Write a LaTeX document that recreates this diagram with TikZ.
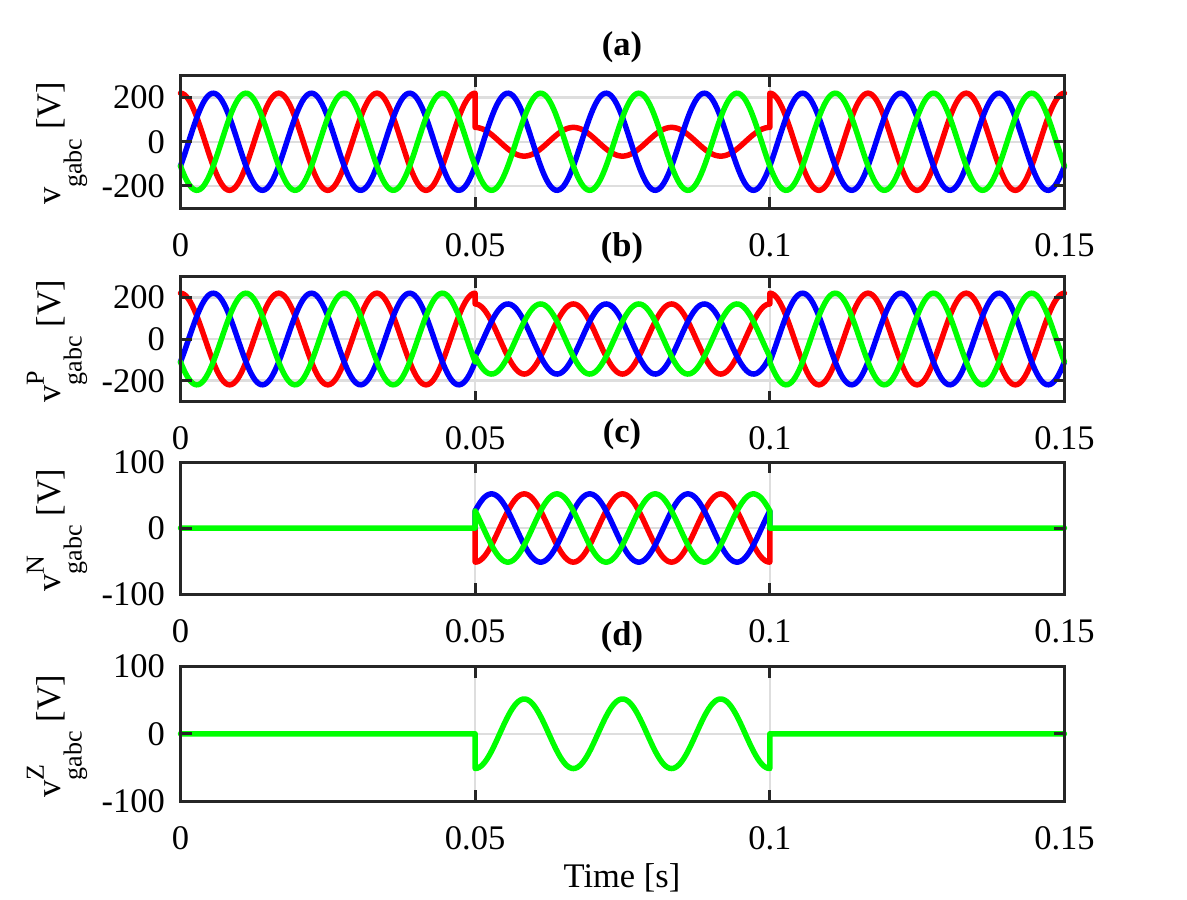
\documentclass[tikz,border=0pt]{standalone}
\usepackage{fontspec}
\setmainfont{Liberation Serif}
\definecolor{axgray}{RGB}{38,38,38}
\definecolor{gridgray}{RGB}{222,222,222}
\definecolor{pha}{RGB}{255,0,0}
\definecolor{phb}{RGB}{0,0,255}
\definecolor{phc}{RGB}{0,255,0}
\newcommand{\wm}{21.6}
\newcommand{\subfnt}{\fontsize{26}{26}\selectfont}
\newcommand{\vsym}[1]{v\rlap{\raisebox{0.47em}{\subfnt #1}}\raisebox{-0.63em}{\subfnt gabc}}
\newcommand{\axbox}[2]{%
  \draw[axline] (180.5,#1) rectangle (1064.5,#2);
  \draw[axline] (475.17,#1) -- ++(0,11) (475.17,#2) -- ++(0,-11);
  \draw[axline] (769.83,#1) -- ++(0,11) (769.83,#2) -- ++(0,-11);}
\newcommand{\ytk}[1]{\draw[axline] (180.5,#1) -- ++(11,0) (1064.5,#1) -- ++(-11,0);}

\begin{document}
\begin{tikzpicture}[x=1pt, y=-1pt,
    wave/.style={line width=5.5pt, line join=round, line cap=round},
    axline/.style={draw=axgray, line width=3pt},
    gridline/.style={draw=gridgray, line width=2.5pt},
    lab/.style={inner sep=0pt, font=\fontsize{34.5}{40}\selectfont},
    ttl/.style={inner sep=0pt, font=\fontsize{34.5}{40}\selectfont\bfseries},
    ylab/.style={lab, rotate=90, anchor=base}]
    \fill[white] (0,0) rectangle (1187,900);
    \useasboundingbox (0,0) rectangle (1187,900);

    % (a) grid and curves
    \begin{scope}[shift={(180.5,141.75)}, xscale=5.893, yscale=-0.2208]
        \draw[gridline] (0,200) -- (150,200) (0,0) -- (150,0) (0,-200) -- (150,-200) (50,-300) -- (50,300) (100,-300) -- (100,300);
        \draw[wave, pha] plot[domain=0:50, samples=151] (\x,{220*cos(\wm*\x)}) -- plot[domain=50:100, samples=151] (\x,{65*cos(\wm*\x)}) -- plot[domain=100:150, samples=151] (\x,{220*cos(\wm*\x)});
        \draw[wave, phb] plot[domain=0:150, samples=451] (\x,{220*cos(\wm*\x-120)});
        \draw[wave, phc] plot[domain=0:150, samples=451] (\x,{220*cos(\wm*\x+120)});
    \end{scope}
    \axbox{75.5}{208}
    \ytk{97.6} \ytk{141.75} \ytk{185.9}

    % (b) grid and curves
    \begin{scope}[shift={(180.5,339)}, xscale=5.893, yscale=-0.2083]
        \draw[gridline] (0,200) -- (150,200) (0,0) -- (150,0) (0,-200) -- (150,-200) (50,-300) -- (50,300) (100,-300) -- (100,300);
        \draw[wave, pha] plot[domain=0:50, samples=151] (\x,{220*cos(\wm*\x)}) -- plot[domain=50:100, samples=151] (\x,{168.3*cos(\wm*\x)}) -- plot[domain=100:150, samples=151] (\x,{220*cos(\wm*\x)});
        \draw[wave, phb] plot[domain=0:50, samples=151] (\x,{220*cos(\wm*\x-120)}) -- plot[domain=50:100, samples=151] (\x,{168.3*cos(\wm*\x-120)}) -- plot[domain=100:150, samples=151] (\x,{220*cos(\wm*\x-120)});
        \draw[wave, phc] plot[domain=0:50, samples=151] (\x,{220*cos(\wm*\x+120)}) -- plot[domain=50:100, samples=151] (\x,{168.3*cos(\wm*\x+120)}) -- plot[domain=100:150, samples=151] (\x,{220*cos(\wm*\x+120)});
    \end{scope}
    \axbox{276.5}{401.5}
    \ytk{297.3} \ytk{339} \ytk{380.7}

    % (c) grid and curves
    \begin{scope}[shift={(180.5,528)}, xscale=5.893, yscale=-0.66]
        \draw[gridline] (0,0) -- (150,0) (50,-100) -- (50,100) (100,-100) -- (100,100);
        \draw[wave, pha] (50,0) -- plot[domain=50:100, samples=151] (\x,{-51.7*cos(\wm*\x)}) -- (100,0);
        \draw[wave, phb] (50,0) -- plot[domain=50:100, samples=151] (\x,{-51.7*cos(\wm*\x+120)}) -- (100,0);
        \draw[wave, phc] (0,0) -- (50,0) -- plot[domain=50:100, samples=151] (\x,{-51.7*cos(\wm*\x-120)}) -- (100,0) -- (150,0);
    \end{scope}
    \axbox{462}{594}
    \ytk{528}

    % (d) grid and curves
    \begin{scope}[shift={(180.5,733.75)}, xscale=5.893, yscale=-0.6725]
        \draw[gridline] (0,0) -- (150,0) (50,-100) -- (50,100) (100,-100) -- (100,100);
        \draw[wave, phc] (0,0) -- (50,0) -- plot[domain=50:100, samples=151] (\x,{-51.7*cos(\wm*\x)}) -- (100,0) -- (150,0);
    \end{scope}
    \axbox{666.5}{801}
    \ytk{733.75}

    % Titles
    \node[ttl] (title-a) at (622,47.5) {(a)};
    \node[ttl] (title-b) at (622,248) {(b)};
    \node[ttl] (title-c) at (622,434) {(c)};
    \node[ttl] (title-d) at (622,637) {(d)};

    % Axis labels
    \node[ylab] (ylab-a) at (60,143.5) {\vsym{} [V]};
    \node[ylab] (ylab-b) at (60,341) {\vsym{P} [V]};
    \node[ylab] (ylab-c) at (60,530) {\vsym{N} [V]};
    \node[ylab] (ylab-d) at (60,736) {\vsym{Z} [V]};
    \node[lab, anchor=base] (xlab) at (622,887) {Time [s]};

    % First row ticks
    \node[lab, anchor=east] (yt-a-1) at (165,97.6) {200};
    \node[lab, anchor=east] (yt-a-2) at (165,141.75) {0};
    \node[lab, anchor=east] (yt-a-3) at (165,185.9) {-200};
    \node[lab] (xt-a-1) at (180.5,245) {0};
    \node[lab] (xt-a-2) at (475.17,245) {0.05};
    \node[lab] (xt-a-3) at (769.83,245) {0.1};
    \node[lab] (xt-a-4) at (1064.5,245) {0.15};

    \node[lab, anchor=east] (yt-b-1) at (165,297.3) {200};
    \node[lab, anchor=east] (yt-b-2) at (165,339) {0};
    \node[lab, anchor=east] (yt-b-3) at (165,380.7) {-200};
    \node[lab] (xt-b-1) at (180.5,438.5) {0};
    \node[lab] (xt-b-2) at (475.17,438.5) {0.05};
    \node[lab] (xt-b-3) at (769.83,438.5) {0.1};
    \node[lab] (xt-b-4) at (1064.5,438.5) {0.15};

    \node[lab, anchor=east] (yt-c-1) at (165,462) {100};
    \node[lab, anchor=east] (yt-c-2) at (165,528) {0};
    \node[lab, anchor=east] (yt-c-3) at (165,594) {-100};
    \node[lab] (xt-c-1) at (180.5,631) {0};
    \node[lab] (xt-c-2) at (475.17,631) {0.05};
    \node[lab] (xt-c-3) at (769.83,631) {0.1};
    \node[lab] (xt-c-4) at (1064.5,631) {0.15};

    \node[lab, anchor=east] (yt-d-1) at (165,666.5) {100};
    \node[lab, anchor=east] (yt-d-2) at (165,733.75) {0};
    \node[lab, anchor=east] (yt-d-3) at (165,801) {-100};
    \node[lab] (xt-d-1) at (180.5,838) {0};
    \node[lab] (xt-d-2) at (475.17,838) {0.05};
    \node[lab] (xt-d-3) at (769.83,838) {0.1};
    \node[lab] (xt-d-4) at (1064.5,838) {0.15};

\end{tikzpicture}
\end{document}
